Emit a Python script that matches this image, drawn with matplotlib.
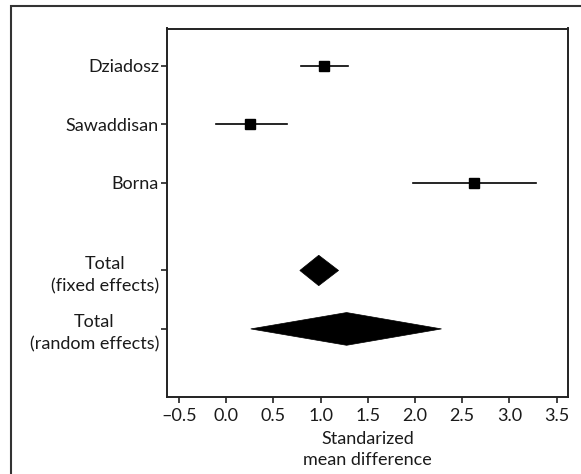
import numpy as np
import matplotlib
matplotlib.use('Agg')
import matplotlib.pyplot as plt
from matplotlib.patches import Polygon

plt.rcParams['font.family'] = ['Lato', 'DejaVu Sans']

# study estimates (standardized mean difference with 95% CI)
studies = ['Dziadosz', 'Sawaddisan', 'Borna']
est = [1.04, 0.25, 2.62]
lo = [0.79, -0.11, 1.98]
hi = [1.29, 0.64, 3.28]
study_y = [5, 4, 3]

# pooled estimates
pooled = ['Total\n(fixed effects)', 'Total\n(random effects)']
pooled_est = [0.98, 1.275]
pooled_lo = [0.78, 0.26]
pooled_hi = [1.19, 2.28]
pooled_y = [1.5, 0.5]
pooled_h = [0.26, 0.28]

xticks = [-0.5, 0.0, 0.5, 1.0, 1.5, 2.0, 2.5, 3.0, 3.5]


def main():
    fig = plt.figure(figsize=(5.81, 4.74), dpi=100)

    # outer frame (only left/top visible, runs off the image)
    fr = plt.Rectangle((10.5 / 581, -0.1), 1.2, 1.1 - 6.5 / 474,
                       transform=fig.transFigure, fill=False,
                       edgecolor='#333333', linewidth=1.5)
    fig.patches.append(fr)

    ax = fig.add_axes([167.3 / 581, 1 - 397.3 / 474,
                       (568 - 167.3) / 581, (397.3 - 28.5) / 474])

    for y, e, l, h in zip(study_y, est, lo, hi):
        ax.plot([l, h], [y, y], color='black', linewidth=1.2)
        ax.plot(e, y, marker='s', color='black', markersize=7.5, linestyle='none')

    for y, e, l, h, dh in zip(pooled_y, pooled_est, pooled_lo, pooled_hi, pooled_h):
        ax.add_patch(Polygon([[l, y], [e, y + dh], [h, y], [e, y - dh]],
                             closed=True, facecolor='black', edgecolor='black',
                             linewidth=0.5))

    ax.set_xlim(-0.624, 3.62)
    ax.set_ylim(-0.67, 5.64)
    ax.set_xticks(xticks)
    ax.set_xticklabels(['\u20130.5'] + ['%.1f' % t for t in xticks[1:]])
    ax.set_yticks(study_y + pooled_y)
    ax.set_yticklabels(studies + pooled, multialignment='center', linespacing=1.45)
    ax.tick_params(axis='both', labelsize=13, length=4.5, width=1.2,
                   color='#222222', labelcolor='#1a1a1a')
    ax.tick_params(axis='x', pad=3)
    ax.tick_params(axis='y', pad=1.5)
    for s in ax.spines.values():
        s.set_linewidth(1.4)
        s.set_color('#222222')

    ax.set_xlabel('Standarized\nmean difference', fontsize=13,
                  color='#1a1a1a', labelpad=5, linespacing=1.4)

    fig.savefig('out.png', dpi=100)


if __name__ == "__main__":
    main()
